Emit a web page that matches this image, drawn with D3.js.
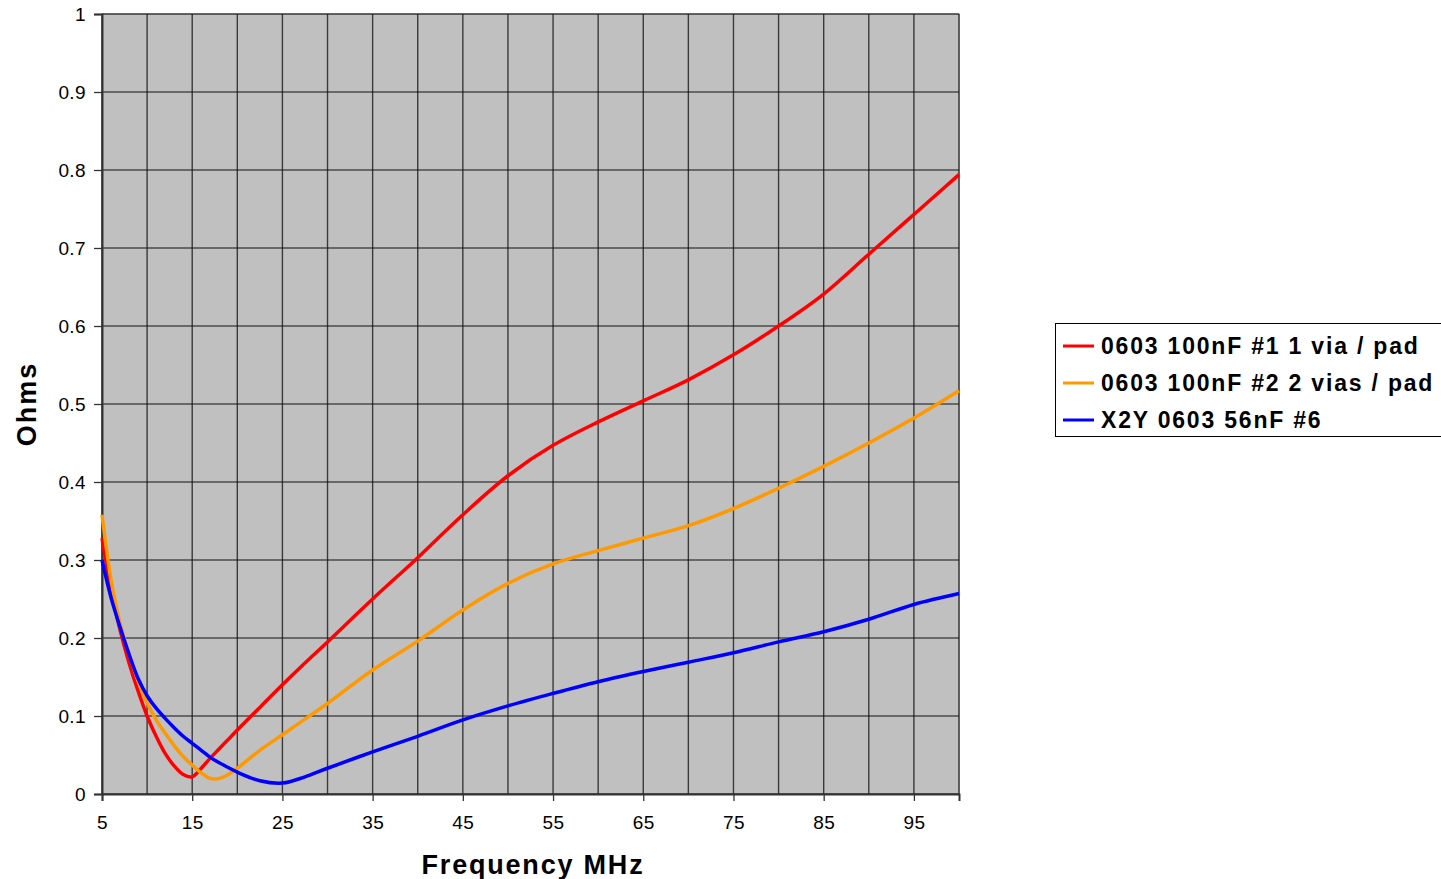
<!DOCTYPE html>
<html>
<head>
<meta charset="utf-8">
<script src="https://cdn.jsdelivr.net/npm/d3@7"></script>
<style>
  body { margin: 0; background: #fff; }
  svg { display: block; font-family: "Liberation Sans", Arial, sans-serif; }
</style>
</head>
<body>
<svg width="1441" height="879"></svg>
<script>
// frequency points (MHz)
const freqs = [5,6,7,8,9,10,11,12,13,14,15,16,17,18,19,20,22.5,25,27.5,30,35,40,45,50,55,60,65,70,75,80,85,90,95,100];

const seriesNames = ["0603 100nF #1 1 via / pad", "0603 100nF #2 2 vias / pad", "X2Y 0603 56nF #6"];
const seriesColors = ["#FF0000", "#FF9900", "#0000FF"];

const red    = [0.328,0.262,0.21,0.168,0.132,0.1,0.074,0.052,0.036,0.025,0.022,0.033,0.046,0.058,0.07,0.082,0.111,0.14,0.168,0.195,0.25,0.303,0.358,0.408,0.447,0.477,0.504,0.531,0.563,0.6,0.641,0.692,0.743,0.794];
const orange = [0.358,0.275,0.219,0.18,0.145,0.117,0.095,0.078,0.062,0.048,0.037,0.027,0.02,0.02,0.025,0.033,0.056,0.076,0.096,0.116,0.159,0.196,0.236,0.27,0.295,0.312,0.328,0.344,0.366,0.392,0.42,0.45,0.482,0.517];
const blue   = [0.3,0.252,0.214,0.179,0.148,0.126,0.11,0.097,0.085,0.074,0.065,0.056,0.047,0.04,0.034,0.028,0.017,0.014,0.022,0.033,0.054,0.074,0.095,0.113,0.129,0.144,0.157,0.169,0.181,0.195,0.208,0.224,0.243,0.257];

const xTicks = [5,15,25,35,45,55,65,75,85,95];
const xGrid = d3.range(5, 101, 5);
const yTicks = [0,0.1,0.2,0.3,0.4,0.5,0.6,0.7,0.8,0.9,1];

const svg = d3.select("svg");
const plotLeft = 102, plotRight = 959, plotTop = 14, plotBottom = 794;

const x = d3.scaleLinear().domain([5, 100]).range([plotLeft, plotRight]);
const y = d3.scaleLinear().domain([0, 1]).range([plotBottom, plotTop]);

// plot background
svg.append("rect")
  .attr("x", plotLeft).attr("y", plotTop)
  .attr("width", plotRight - plotLeft).attr("height", plotBottom - plotTop)
  .attr("fill", "#C0C0C0")
  .attr("stroke", "#808080").attr("stroke-width", 1);

// vertical gridlines
svg.append("g").selectAll("line")
  .data(xGrid)
  .enter().append("line")
  .attr("x1", d => x(d)).attr("x2", d => x(d))
  .attr("y1", plotTop).attr("y2", plotBottom)
  .attr("stroke", "#3a3a3a").attr("stroke-width", 1.4);

// horizontal gridlines
svg.append("g").selectAll("line")
  .data(yTicks)
  .enter().append("line")
  .attr("x1", plotLeft).attr("x2", plotRight)
  .attr("y1", d => y(d)).attr("y2", d => y(d))
  .attr("stroke", "#111").attr("stroke-width", 1.1);

// axes
const yAxis = d3.axisLeft(y).tickValues(yTicks).tickSize(8).tickPadding(8)
  .tickFormat(d => d === 0 || d === 1 ? d3.format("d")(d) : d3.format(".1f")(d));
const gy = svg.append("g").attr("transform", `translate(${plotLeft},0)`).call(yAxis);

const xAxis = d3.axisBottom(x).tickValues(xTicks).tickSize(7).tickPadding(15);
const gx = svg.append("g").attr("transform", `translate(0,${plotBottom})`).call(xAxis);

[gx, gy].forEach(g => {
  g.attr("font-size", null).attr("font-family", null);
  g.select(".domain").attr("stroke", "#333").attr("stroke-width", 2);
  g.selectAll(".tick line").attr("stroke", "#333").attr("stroke-width", 1.3);
  g.selectAll(".tick text").attr("fill", "#000")
    .style("font-size", "19px").style("letter-spacing", "0.4px");
});

// series lines
const line = d3.line()
  .x((d, i) => x(freqs[i]))
  .y(d => y(d))
  .curve(d3.curveCatmullRom);

[red, orange, blue].forEach((vals, k) => {
  svg.append("path")
    .datum(vals)
    .attr("d", line)
    .attr("fill", "none")
    .attr("stroke", seriesColors[k])
    .attr("stroke-width", 3.5);
});

// axis titles
svg.append("text")
  .attr("x", 533).attr("y", 874)
  .attr("text-anchor", "middle")
  .style("font-size", "27px").style("font-weight", "bold").style("letter-spacing", "1.8px")
  .text("Frequency MHz");

svg.append("text")
  .attr("transform", "translate(36,404) rotate(-90)")
  .attr("text-anchor", "middle")
  .style("font-size", "27px").style("font-weight", "bold").style("letter-spacing", "2px")
  .text("Ohms");

// legend
const lg = svg.append("g");
lg.append("rect")
  .attr("x", 1055.5).attr("y", 323.5)
  .attr("width", 390).attr("height", 113)
  .attr("fill", "#fff").attr("stroke", "#000").attr("stroke-width", 1);

seriesNames.forEach((name, k) => {
  const ly = 346 + k * 37;
  lg.append("line")
    .attr("x1", 1063).attr("x2", 1094)
    .attr("y1", ly).attr("y2", ly)
    .attr("stroke", seriesColors[k]).attr("stroke-width", 3);
  lg.append("text")
    .attr("x", 1101).attr("y", ly + 8)
    .style("font-size", "23px").style("font-weight", "bold").style("letter-spacing", "1.8px")
    .text(name);
});
</script>
</body>
</html>
